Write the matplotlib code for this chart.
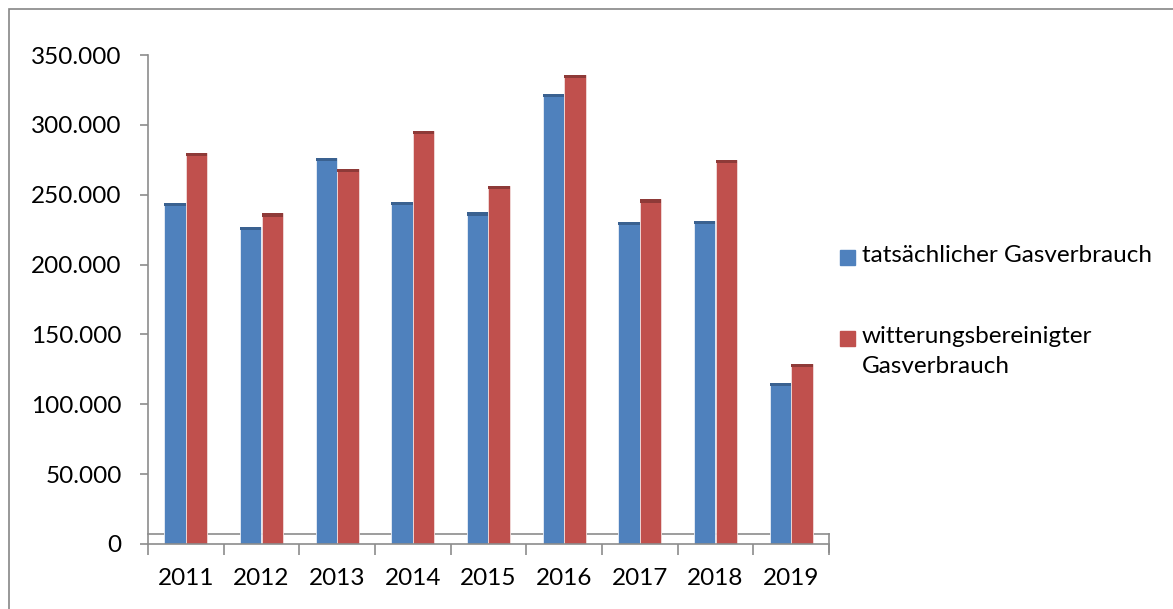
import matplotlib.pyplot as plt
import matplotlib.patches as mpatches
from matplotlib.ticker import FuncFormatter
import numpy as np

plt.rcParams['font.family'] = ['Lato', 'DejaVu Sans']

# data
years = ['2011', '2012', '2013', '2014', '2015', '2016', '2017', '2018', '2019']
actual = [244000, 226700, 276100, 244600, 237400, 322300, 230300, 231400, 115500]
weather_adj = [280100, 236700, 268200, 295800, 256500, 335700, 246700, 274900, 128800]
series_names = ['tatsächlicher Gasverbrauch', 'witterungsbereinigter\nGasverbrauch']

blue, blue_dark = '#4F81BD', '#3A6190'
red, red_dark = '#C0504D', '#8E3A38'
grey = '#8C8C8C'

W, H = 1173, 609
fig = plt.figure(figsize=(W / 100, H / 100), dpi=100)
ax = fig.add_axes([148 / W, (H - 544) / H, 681 / W, 489 / H])

x = np.arange(len(years))
bw = 0.284
cap = 2300  # darker top face of the 3d columns

# 3d floor line behind the bars
ax.plot([-0.5, 8.5], [7000, 7000], color=grey, lw=1.2, zorder=1, clip_on=False)

for vals, off, c, cd in [(actual, -bw / 2, blue, blue_dark), (weather_adj, bw / 2, red, red_dark)]:
    vals = np.array(vals)
    ax.bar(x + off, vals, width=bw, color=c, edgecolor='#E8EEF7' if c == blue else '#F2DCDB',
           linewidth=0.6, zorder=2)
    ax.bar(x + off, np.full(len(vals), cap), bottom=vals - cap, width=bw, color=cd,
           linewidth=0, zorder=3)

ax.set_xlim(-0.5, 8.5)
ax.set_ylim(0, 350000)
ax.set_yticks(np.arange(0, 350001, 50000))
ax.yaxis.set_major_formatter(FuncFormatter(lambda v, p: f'{int(v):,}'.replace(',', '.')))

ax.set_xticks(np.arange(-0.5, 9, 1))
ax.set_xticklabels([])
ax.set_xticks(x, minor=True)
ax.set_xticklabels(years, minor=True)

ax.tick_params(axis='y', length=6, width=1.2, color=grey, pad=13, labelsize=17.5)
ax.tick_params(axis='x', which='major', length=8, width=1.2, color=grey)
ax.tick_params(axis='x', which='minor', length=0, pad=17, labelsize=17.5)

for s in ['top', 'right']:
    ax.spines[s].set_visible(False)
for s in ['left', 'bottom']:
    ax.spines[s].set_color(grey)
    ax.spines[s].set_linewidth(1.2)

# right edge of the floor
ax.plot([8.5, 8.5], [7000, -5700], color=grey, lw=1.2, clip_on=False, zorder=1)

# legend
for i, (name, c) in enumerate(zip(series_names, [blue, red])):
    ytop = [250, 331][i]
    fig.patches.append(mpatches.Rectangle((840 / W, (H - ytop - 15) / H), 15 / W, 15 / H,
                                          transform=fig.transFigure, color=c, figure=fig))
    fig.text(862 / W, (H - ytop + 5) / H, name, fontsize=17.5, va='top', ha='left',
             linespacing=1.55)

# chart area border
fig.patches.append(mpatches.Rectangle((9 / W, -0.05), 1.1, (H - 9) / H + 0.05,
                                      transform=fig.transFigure, fill=False,
                                      edgecolor='#868686', lw=1.2, figure=fig))

fig.savefig('out.png', dpi=100)
